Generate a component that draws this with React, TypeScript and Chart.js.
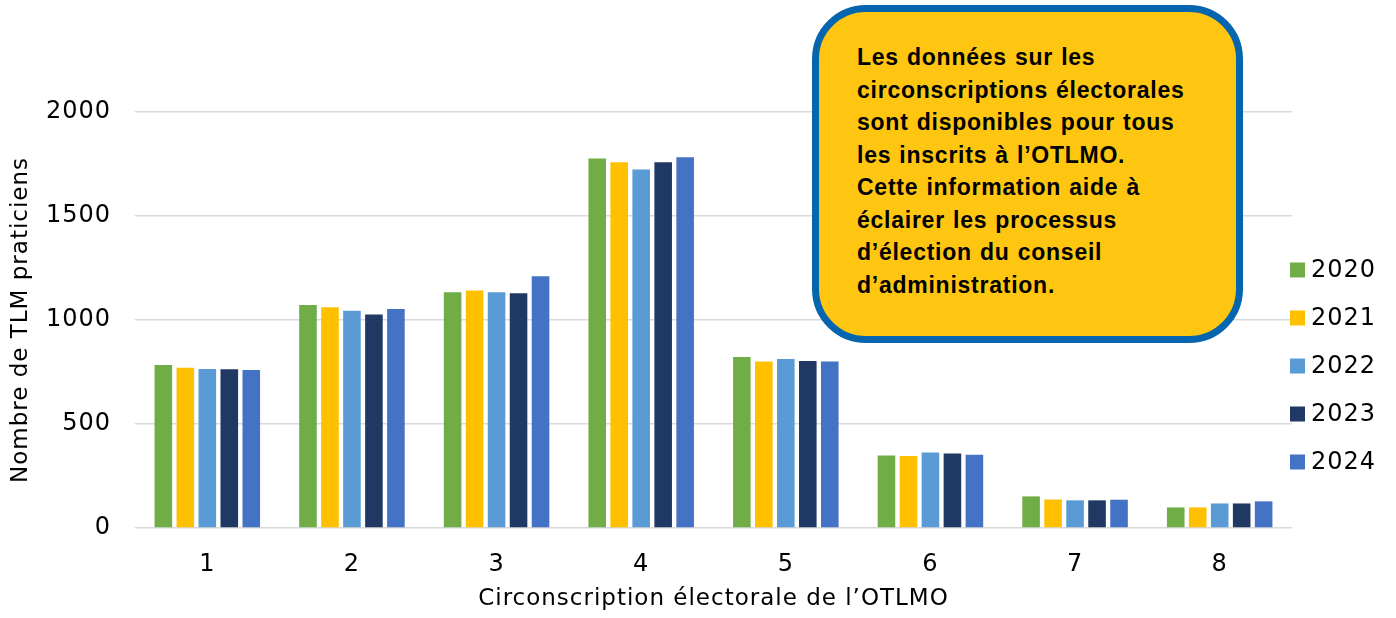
import React, { useEffect, useRef } from "react";
import { Chart, registerables } from "chart.js";

Chart.register(...registerables);

const categories = ["1", "2", "3", "4", "5", "6", "7", "8"];
const years = ["2020", "2021", "2022", "2023", "2024"];
const values2020 = [784, 1072, 1133, 1776, 822, 349, 152, 99];
const values2021 = [771, 1061, 1142, 1758, 800, 346, 137, 99];
const values2022 = [765, 1045, 1133, 1723, 813, 363, 133, 118];
const values2023 = [763, 1026, 1129, 1758, 803, 358, 133, 118];
const values2024 = [760, 1053, 1210, 1782, 800, 352, 136, 128];
const yTicks = [0, 500, 1000, 1500, 2000];
const colors = ["#70AD47", "#FFC000", "#5B9BD5", "#203864", "#4472C4"];
const xTitle = "Circonscription électorale de l\u2019OTLMO";
const yTitle = "Nombre de TLM praticiens";
const calloutLines = [
  "Les données sur les",
  "circonscriptions électorales",
  "sont disponibles pour tous",
  "les inscrits à l\u2019OTLMO.",
  "Cette information aide à",
  "éclairer les processus",
  "d\u2019élection du conseil",
  "d\u2019administration.",
];

const FONT = "'DejaVu Sans', sans-serif";

const spacing = {
  id: "spacing",
  beforeUpdate(chart: any) {
    chart.ctx.letterSpacing = "1px";
  },
  beforeLayout(chart: any) {
    chart.ctx.letterSpacing = "1px";
  },
  beforeDraw(chart: any) {
    chart.ctx.letterSpacing = "1px";
  },
};

const sideLegend = {
  id: "sideLegend",
  afterDraw(chart: any) {
    const { ctx, chartArea } = chart;
    ctx.save();
    ctx.letterSpacing = "1px";
    ctx.font = `24px ${FONT}`;
    ctx.textBaseline = "middle";
    ctx.textAlign = "left";
    chart.data.datasets.forEach((ds: any, i: number) => {
      const cy = chartArea.top + 158 + i * 48;
      const bx = chartArea.right - 2;
      ctx.fillStyle = ds.backgroundColor;
      ctx.fillRect(bx, cy - 7.5, 15, 15);
      ctx.fillStyle = "#000";
      ctx.fillText(ds.label, bx + 21, cy + 1);
    });
    ctx.restore();
  },
};

export default function App() {
  const ref = useRef<HTMLCanvasElement | null>(null);

  useEffect(() => {
    if (!ref.current) return;
    const series = [values2020, values2021, values2022, values2023, values2024];
    const chart = new Chart(ref.current, {
      type: "bar",
      data: {
        labels: categories,
        datasets: years.map((y, i) => ({
          label: y,
          data: series[i],
          backgroundColor: colors[i],
          borderWidth: 0,
          categoryPercentage: 0.76,
          barPercentage: 0.8,
        })),
      },
      options: {
        animation: false,
        responsive: true,
        maintainAspectRatio: false,
        layout: { padding: { left: 0, right: 104, top: 112, bottom: 0 } },
        plugins: {
          legend: { display: false },
          tooltip: { enabled: false },
        },
        scales: {
          x: {
            afterFit: (axis: any) => {
              axis.height = 90;
            },
            grid: { display: false, drawTicks: false },
            border: { display: false },
            ticks: { color: "#000", font: { family: FONT, size: 24 }, padding: 22 },
            title: {
              display: true,
              text: xTitle,
              color: "#000",
              font: { family: FONT, size: 23 },
              padding: { top: 0, bottom: 5 },
            },
          },
          y: {
            min: 0,
            max: 2000,
            afterFit: (axis: any) => {
              axis.width = 135;
            },
            afterBuildTicks: (axis: any) => {
              axis.ticks = yTicks.map((v) => ({ value: v }));
            },
            grid: { color: "#d9d9d9", lineWidth: 1.5, drawTicks: false },
            border: { display: false },
            ticks: {
              color: "#000",
              font: { family: FONT, size: 24 },
              padding: 24,
              callback: (v: any) => String(v),
            },
            title: {
              display: true,
              text: yTitle,
              color: "#000",
              font: { family: FONT, size: 23 },
              padding: { top: 7, bottom: 0 },
            },
          },
        },
      },
      plugins: [spacing, sideLegend],
    });
    return () => chart.destroy();
  }, []);

  return (
    <div style={{ position: "fixed", left: 0, top: 0, width: 1396, height: 618, background: "#fff" }}>
      <canvas ref={ref} style={{ position: "absolute", left: 0, top: 0 }} />
      <div
        style={{
          position: "absolute",
          left: 812,
          top: 5,
          width: 431,
          height: 338,
          boxSizing: "border-box",
          border: "7px solid #0565AE",
          borderRadius: 54,
          background: "#FEC610",
          paddingLeft: 38,
          paddingTop: 29,
          fontFamily: "'Liberation Sans', Arial, sans-serif",
          fontWeight: "bold",
          fontSize: 23,
          lineHeight: "32.5px",
          color: "#000",
          whiteSpace: "nowrap",
          letterSpacing: "0.75px",
          wordSpacing: "1px",
        }}
      >
        {calloutLines.map((l, i) => (
          <div key={i}>{l}</div>
        ))}
      </div>
    </div>
  );
}
